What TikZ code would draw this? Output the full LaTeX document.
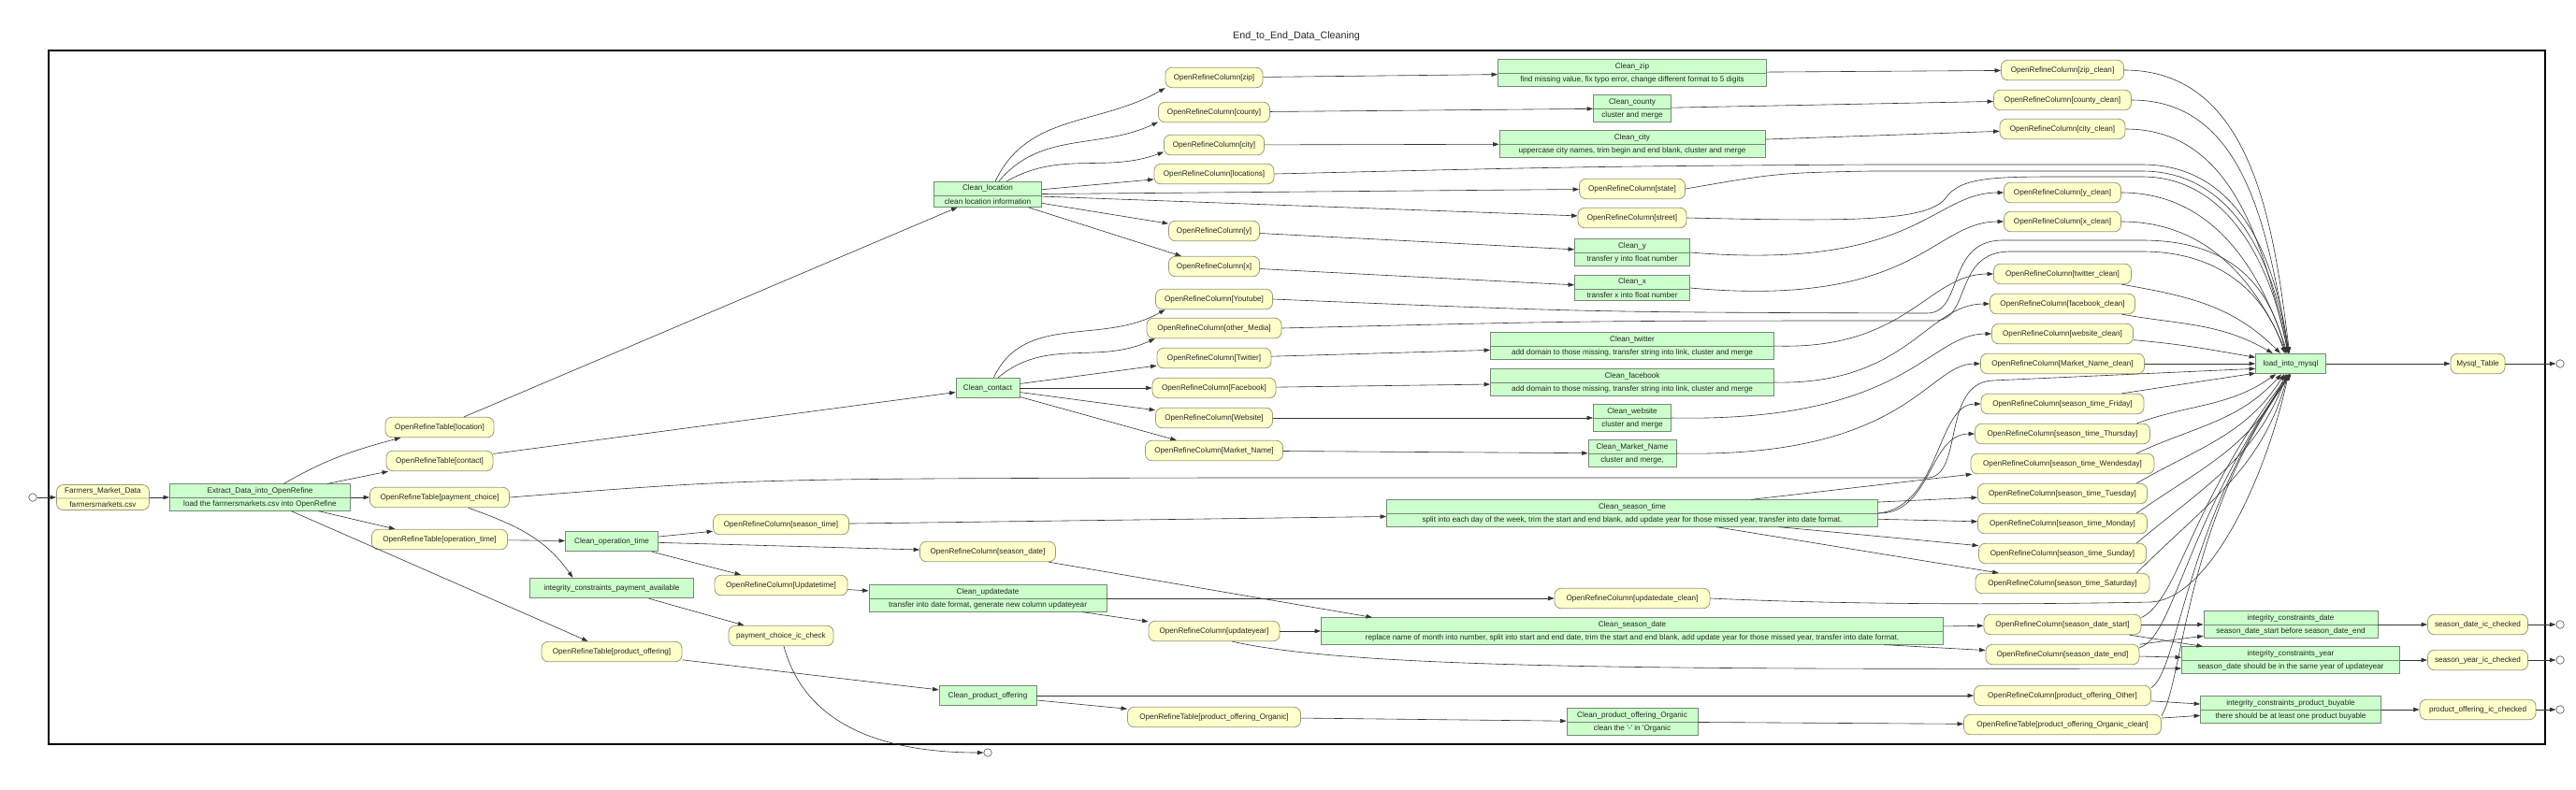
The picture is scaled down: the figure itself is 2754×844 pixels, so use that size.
\documentclass[tikz,border=0pt]{standalone}
\usepackage{fontspec}
\setmainfont{Liberation Sans}
\usetikzlibrary{arrows.meta,shapes.multipart}
\definecolor{gelb}{HTML}{FFFFCC}
\definecolor{gelbrand}{HTML}{9A9A7A}
\definecolor{gruen}{HTML}{CCFFCC}
\definecolor{gruenrand}{HTML}{778877}
\definecolor{kante}{HTML}{333333}
\begin{document}
\begin{tikzpicture}[x=1pt,y=-1pt,
  every node/.style={font=\fontsize{8.15}{9.8}\selectfont,text=black!85},
  col/.style={draw=gelbrand,fill=gelb,rounded corners=7pt,line width=0.8pt,inner xsep=4pt,inner ysep=0pt,minimum height=21.5pt},
  task/.style={draw=gruenrand,fill=gruen,line width=0.8pt,inner xsep=4pt,inner ysep=0pt,minimum height=21.5pt},
  rec/.style={task,rectangle split,rectangle split parts=2,inner ysep=2.8pt,minimum height=0pt,text height=6.2pt,text depth=1.9pt},
  ende/.style={circle,draw=black!60,fill=white,minimum size=8.5pt,inner sep=0pt,line width=0.7pt},
  arr/.style={-{Triangle[length=6.5pt,width=4.4pt]},draw=kante,line width=0.6pt}]
  \useasboundingbox (0,0) rectangle (2754,844);
  % Rahmen und Titel
  \node[font=\fontsize{10.7}{12}\selectfont] (titel) at (1386,39) {End\_to\_End\_Data\_Cleaning};
  \draw[line width=1.3pt] (52,54) rectangle (2721,796);
  % Start und Extraktion
  \node[ende] (start) at (35,532) {};
  \node[rec,draw=gelbrand,fill=gelb,rounded corners=7pt,minimum width=99pt] (farm) at (110,532) {Farmers\_Market\_Data\nodepart{two}farmersmarkets.csv};
  \node[rec,minimum width=193pt] (extract) at (278,532) {Extract\_Data\_into\_OpenRefine\nodepart{two}load the farmersmarkets.csv into OpenRefine};
  % Tabellen
  \node[col,minimum width=116pt] (tLoc) at (470,457) {OpenRefineTable[location]};
  \node[col,minimum width=114pt] (tCon) at (470,493) {OpenRefineTable[contact]};
  \node[col,minimum width=149pt] (tPay) at (470,532) {OpenRefineTable[payment\_choice]};
  \node[col,minimum width=145pt] (tOpt) at (470,577) {OpenRefineTable[operation\_time]};
  \node[task,minimum width=99pt] (cOpt) at (654,579) {Clean\_operation\_time};
  \node[task,minimum width=175pt] (icPay) at (654,629) {integrity\_constraints\_payment\_available};
  \node[col,minimum width=150pt] (tProd) at (654,697) {OpenRefineTable[product\_offering]};
  \node[col,minimum width=145pt] (sTime) at (835,561) {OpenRefineColumn[season\_time]};
  \node[col,minimum width=142pt] (uTime) at (835,626) {OpenRefineColumn[Updatetime]};
  \node[col,minimum width=112pt] (pCheck) at (835,680) {payment\_choice\_ic\_check};
  \node[rec,minimum width=115pt] (cLoc) at (1056,208) {Clean\_location\nodepart{two}clean location information};
  \node[task,minimum width=68pt] (cCon) at (1056,415) {Clean\_contact};
  \node[col,minimum width=145pt] (sDate) at (1056,590) {OpenRefineColumn[season\_date]};
  \node[rec,minimum width=254pt] (cUpd) at (1056,640) {Clean\_updatedate\nodepart{two}transfer into date format, generate new column updateyear};
  \node[task,minimum width=104pt] (cProd) at (1056,744) {Clean\_product\_offering};
  \node[ende] (endPay) at (1056,805) {};
  % Spalten
  \node[col,minimum width=104pt] (zip) at (1298,83) {OpenRefineColumn[zip]};
  \node[col,minimum width=119pt] (county) at (1298,120) {OpenRefineColumn[county]};
  \node[col,minimum width=107pt] (city) at (1298,155) {OpenRefineColumn[city]};
  \node[col,minimum width=128pt] (locs) at (1298,186) {OpenRefineColumn[locations]};
  \node[col,minimum width=97pt] (ycol) at (1298,247) {OpenRefineColumn[y]};
  \node[col,minimum width=97pt] (xcol) at (1298,285) {OpenRefineColumn[x]};
  \node[col,minimum width=125pt] (yt) at (1298,320) {OpenRefineColumn[Youtube]};
  \node[col,minimum width=144pt] (om) at (1298,351) {OpenRefineColumn[other\_Media]};
  \node[col,minimum width=122pt] (tw) at (1298,383) {OpenRefineColumn[Twitter]};
  \node[col,minimum width=132pt] (fb) at (1298,415) {OpenRefineColumn[Facebook]};
  \node[col,minimum width=125pt] (web) at (1298,447) {OpenRefineColumn[Website]};
  \node[col,minimum width=147pt] (mn) at (1298,482) {OpenRefineColumn[Market\_Name]};
  \node[col,minimum width=140pt] (updYear) at (1298,675) {OpenRefineColumn[updateyear]};
  \node[col,minimum width=185pt] (tOrg) at (1298,767) {OpenRefineTable[product\_offering\_Organic]};
  % Bereinigung
  \node[rec,minimum width=287pt] (cZip) at (1745,78) {Clean\_zip\nodepart{two}find missing value, fix typo error, change different format to 5 digits};
  \node[rec,minimum width=83pt] (cCounty) at (1745,116) {Clean\_county\nodepart{two}cluster and merge};
  \node[rec,minimum width=284pt] (cCity) at (1745,154) {Clean\_city\nodepart{two}uppercase city names, trim begin and end blank, cluster and merge};
  \node[col,minimum width=113pt] (state) at (1745,202) {OpenRefineColumn[state]};
  \node[col,minimum width=116pt] (street) at (1745,233) {OpenRefineColumn[street]};
  \node[rec,minimum width=123pt] (cY) at (1745,270) {Clean\_y\nodepart{two}transfer y into float number};
  \node[rec,minimum width=123pt] (cX) at (1745,308) {Clean\_x\nodepart{two}transfer x into float number};
  \node[rec,minimum width=303pt] (cTw) at (1745,370) {Clean\_twitter\nodepart{two}add domain to those missing, transfer string into link, cluster and merge};
  \node[rec,minimum width=303pt] (cFb) at (1745,409) {Clean\_facebook\nodepart{two}add domain to those missing, transfer string into link, cluster and merge};
  \node[rec,minimum width=83pt] (cWeb) at (1745,447) {Clean\_website\nodepart{two}cluster and merge};
  \node[rec,minimum width=94pt] (cMn) at (1745,485) {Clean\_Market\_Name\nodepart{two}cluster and merge,};
  \node[rec,minimum width=525pt] (cSTime) at (1745,549) {Clean\_season\_time\nodepart{two}split into each day of the week, trim the start and end blank, add update year for those missed year, transfer into date format.};
  \node[col,minimum width=166pt] (udClean) at (1745,640) {OpenRefineColumn[updatedate\_clean]};
  \node[rec,minimum width=665pt] (cSDate) at (1745,675) {Clean\_season\_date\nodepart{two}replace name of month into number, split into start and end date, trim the start and end blank, add update year for those missed year, transfer into date format.};
  \node[rec,minimum width=140pt] (cOrg) at (1745,772) {Clean\_product\_offering\_Organic\nodepart{two}clean the \textquotesingle-\textquotesingle{} in \textquotesingle Organic};
  % Bereinigte Spalten
  \node[col,minimum width=131pt] (zipC) at (2205,75) {OpenRefineColumn[zip\_clean]};
  \node[col,minimum width=147pt] (countyC) at (2205,107) {OpenRefineColumn[county\_clean]};
  \node[col,minimum width=134pt] (cityC) at (2205,138) {OpenRefineColumn[city\_clean]};
  \node[col,minimum width=125pt] (yC) at (2205,206) {OpenRefineColumn[y\_clean]};
  \node[col,minimum width=125pt] (xC) at (2205,237) {OpenRefineColumn[x\_clean]};
  \node[col,minimum width=147pt] (twC) at (2205,293) {OpenRefineColumn[twitter\_clean]};
  \node[col,minimum width=155pt] (fbC) at (2205,325) {OpenRefineColumn[facebook\_clean]};
  \node[col,minimum width=151pt] (webC) at (2205,357) {OpenRefineColumn[website\_clean]};
  \node[col,minimum width=175pt] (mnC) at (2205,389) {OpenRefineColumn[Market\_Name\_clean]};
  \node[col,minimum width=174pt] (fri) at (2205,432) {OpenRefineColumn[season\_time\_Friday]};
  \node[col,minimum width=187pt] (thu) at (2205,464) {OpenRefineColumn[season\_time\_Thursday]};
  \node[col,minimum width=196pt] (wed) at (2205,496) {OpenRefineColumn[season\_time\_Wendesday]};
  \node[col,minimum width=181pt] (tue) at (2205,528) {OpenRefineColumn[season\_time\_Tuesday]};
  \node[col,minimum width=181pt] (mon) at (2205,560) {OpenRefineColumn[season\_time\_Monday]};
  \node[col,minimum width=179pt] (sun) at (2205,592) {OpenRefineColumn[season\_time\_Sunday]};
  \node[col,minimum width=186pt] (sat) at (2205,624) {OpenRefineColumn[season\_time\_Saturday]};
  \node[col,minimum width=168pt] (sdStart) at (2205,668) {OpenRefineColumn[season\_date\_start]};
  \node[col,minimum width=164pt] (sdEnd) at (2205,700) {OpenRefineColumn[season\_date\_end]};
  \node[col,minimum width=189pt] (poOther) at (2205,744) {OpenRefineColumn[product\_offering\_Other]};
  \node[col,minimum width=211pt] (tOrgC) at (2205,775) {OpenRefineTable[product\_offering\_Organic\_clean]};
  % Laden und Pruefungen
  \node[task,minimum width=75pt] (load) at (2449,389) {load\_into\_mysql};
  \node[rec,minimum width=186pt] (icDate) at (2449,668) {integrity\_constraints\_date\nodepart{two}season\_date\_start before season\_date\_end};
  \node[rec,minimum width=233pt] (icYear) at (2449,706) {integrity\_constraints\_year\nodepart{two}season\_date should be in the same year of updateyear};
  \node[rec,minimum width=193pt] (icBuy) at (2449,759) {integrity\_constraints\_product\_buyable\nodepart{two}there should be at least one product buyable};
  \node[col,minimum width=58pt] (mysql) at (2649,389) {Mysql\_Table};
  \node[col,minimum width=107pt] (sdChk) at (2649,668) {season\_date\_ic\_checked};
  \node[col,minimum width=107pt] (syChk) at (2649,706) {season\_year\_ic\_checked};
  \node[col,minimum width=124pt] (poChk) at (2649,759) {product\_offering\_ic\_checked};
  \node[ende] (endMy) at (2737,389) {};
  \node[ende] (end1) at (2737,668) {};
  \node[ende] (end2) at (2737,706) {};
  \node[ende] (end3) at (2737,759) {};
  % Kanten links
  \draw[arr] (start) -- (farm);
  \draw[arr] (farm) -- (extract);
  \draw[arr] (extract) to[out=30,in=195] (tLoc);
  \draw[arr] (extract) -- (tCon);
  \draw[arr] (extract) -- (tPay);
  \draw[arr] (extract) -- (tOpt);
  \draw[arr] (extract) -- (tProd);
  \draw[arr] (tLoc) -- (cLoc);
  \draw[arr] (tCon) -- (cCon);
  \draw[arr] (tPay.-20) to[out=-20,in=125] (icPay.165);
  \draw[arr] (tOpt) -- (cOpt);
  \draw[arr] (icPay) -- (pCheck);
  \draw[arr] (pCheck) to[out=-75,in=180] (endPay);
  \draw[arr] (tProd) -- (cProd);
  % Kanten operation_time
  \draw[arr] (cOpt) -- (sTime);
  \draw[arr] (cOpt) -- (sDate);
  \draw[arr] (cOpt) -- (uTime);
  \draw[arr] (uTime) -- (cUpd);
  \draw[arr] (cUpd) -- (udClean);
  \draw[arr] (cUpd) -- (updYear);
  \draw[arr] (updYear) -- (cSDate);
  \draw[arr] (sDate) -- ([xshift=-278pt]cSDate.north);
  \draw[arr] (sTime) -- (cSTime);
  \draw[arr] (updYear.-30) .. controls (1450,716) and (1800,716) .. ([yshift=-9pt]icYear.west);
  % Kanten location
  \draw[arr] (cLoc.60) to[out=65,in=210] (zip.192);
  \draw[arr] (cLoc.50) to[out=50,in=205] (county.190);
  \draw[arr] (cLoc.35) to[out=30,in=200] (city.188);
  \draw[arr] (cLoc) -- (locs);
  \draw[arr] (cLoc) -- (state);
  \draw[arr] (cLoc) -- (street);
  \draw[arr] (cLoc) -- (ycol);
  \draw[arr] (cLoc) -- (xcol);
  \draw[arr] (zip) -- (cZip);
  \draw[arr] (county) -- (cCounty);
  \draw[arr] (city) -- (cCity);
  \draw[arr] (ycol) -- (cY);
  \draw[arr] (xcol) -- (cX);
  \draw[arr] (cZip) -- (zipC);
  \draw[arr] (cCounty) -- (countyC);
  \draw[arr] (cCity) -- (cityC);
  \draw[arr] (cY.east) .. controls (2050,290) and (2065,206) .. (yC.west);
  \draw[arr] (cX.east) .. controls (2050,330) and (2065,237) .. (xC.west);
  % Kanten contact
  \draw[arr] (cCon.60) to[out=65,in=210] (yt.192);
  \draw[arr] (cCon.45) to[out=40,in=205] (om.190);
  \draw[arr] (cCon) -- (tw);
  \draw[arr] (cCon) -- (fb);
  \draw[arr] (cCon) -- (web);
  \draw[arr] (cCon) -- (mn);
  \draw[arr] (tw) -- (cTw);
  \draw[arr] (fb) -- (cFb);
  \draw[arr] (web) -- (cWeb);
  \draw[arr] (mn) -- (cMn);
  \draw[arr] (cTw.east) .. controls (2040,375) and (2060,293) .. (twC.west);
  \draw[arr] (cFb.east) .. controls (2040,412) and (2060,325) .. (fbC.west);
  \draw[arr] (cWeb.east) .. controls (2040,452) and (2060,357) .. (webC.west);
  \draw[arr] (cMn.east) .. controls (2040,490) and (2060,389) .. (mnC.west);
  % Kanten season_time
  \draw[arr] (cSTime.east) .. controls (2075,542) and (2070,432) .. (fri.west);
  \draw[arr] (cSTime.east) .. controls (2065,550) and (2062,464) .. (thu.west);
  \draw[arr] (cSTime) -- (wed);
  \draw[arr] (cSTime) -- (tue);
  \draw[arr] (cSTime) -- (mon);
  \draw[arr] (cSTime) -- (sun);
  \draw[arr] (cSTime) -- (sat);
  % Kanten season_date und product_offering
  \draw[arr] (cSDate) -- (sdStart);
  \draw[arr] (cSDate) -- (sdEnd);
  \draw[arr] (sdStart) -- (icDate);
  \draw[arr] (sdStart) -- (icYear);
  \draw[arr] (sdEnd) -- (icDate);
  \draw[arr] (sdEnd) -- (icYear);
  \draw[arr] (cProd) -- (poOther);
  \draw[arr] (cProd) -- (tOrg);
  \draw[arr] (tOrg) -- (cOrg);
  \draw[arr] (cOrg) -- (tOrgC);
  \draw[arr] (poOther) -- (icBuy);
  \draw[arr] (tOrgC) -- (icBuy);
  % Kanten nach load_into_mysql (oben)
  \draw[arr] (zipC) to[out=0,in=97] (load);
  \draw[arr] (countyC) to[out=0,in=100] (load);
  \draw[arr] (cityC) to[out=0,in=103] (load);
  \draw[arr] (locs.east) .. controls (1700,178) .. (2000,176) -- (2290,176) .. controls (2385,176) and (2430,260) .. (load.100);
  \draw[arr] (state.east) .. controls (1900,185) .. (2000,183) -- (2290,183) .. controls (2380,183) and (2428,265) .. (load.102);
  \draw[arr] (street.east) .. controls (1980,237) and (2060,237) .. (2080,212) .. controls (2095,190) and (2130,189) .. (2200,189) -- (2290,189) .. controls (2375,189) and (2425,270) .. (load.104);
  \draw[arr] (yC) to[out=0,in=108] (load);
  \draw[arr] (xC) to[out=0,in=113] (load);
  \draw[arr] (yt.east) .. controls (1700,334) .. (2060,335) .. controls (2100,335) and (2080,258) .. (2140,257) -- (2290,257) .. controls (2380,257) and (2425,300) .. (load.115);
  \draw[arr] (om.east) .. controls (1700,343) .. (2068,343) .. controls (2108,343) and (2088,270) .. (2148,269) -- (2290,269) .. controls (2370,269) and (2420,310) .. (load.120);
  \draw[arr] (twC) to[out=-10,in=135] (load);
  \draw[arr] (fbC) to[out=-10,in=150] (load);
  \draw[arr] (webC) to[out=-5,in=170] (load);
  \draw[arr] (mnC) -- (load);
  % Kanten nach load_into_mysql (unten)
  \draw[arr] (tPay.east) .. controls (800,512) .. (1300,511) -- (2060,511) .. controls (2100,511) and (2075,410) .. (2130,407) -- (load.188);
  \draw[arr] (fri.10) -- (load.195);
  \draw[arr] (thu.8) to[out=20,in=215] (load);
  \draw[arr] (wed.8) to[out=25,in=228] (load);
  \draw[arr] (tue.8) to[out=30,in=238] (load);
  \draw[arr] (mon.8) to[out=35,in=245] (load);
  \draw[arr] (sun.8) to[out=40,in=250] (load);
  \draw[arr] (sat.8) to[out=45,in=255] (load);
  \draw[arr] (udClean.east) .. controls (2000,648) and (2200,646) .. (2300,644) .. controls (2360,640) and (2420,520) .. (load.258);
  \draw[arr] (sdStart.5) .. controls (2330,640) and (2340,540) .. (load.262);
  \draw[arr] (sdEnd.5) .. controls (2325,680) and (2335,560) .. (load.265);
  \draw[arr] (poOther.5) .. controls (2330,715) and (2335,560) .. (load.268);
  \draw[arr] (tOrgC.5) .. controls (2335,725) and (2335,560) .. (load.272);
  % Ausgaenge
  \draw[arr] (load) -- (mysql);
  \draw[arr] (mysql) -- (endMy);
  \draw[arr] (icDate) -- (sdChk);
  \draw[arr] (icYear) -- (syChk);
  \draw[arr] (icBuy) -- (poChk);
  \draw[arr] (sdChk) -- (end1);
  \draw[arr] (syChk) -- (end2);
  \draw[arr] (poChk) -- (end3);
\end{tikzpicture}
\end{document}
